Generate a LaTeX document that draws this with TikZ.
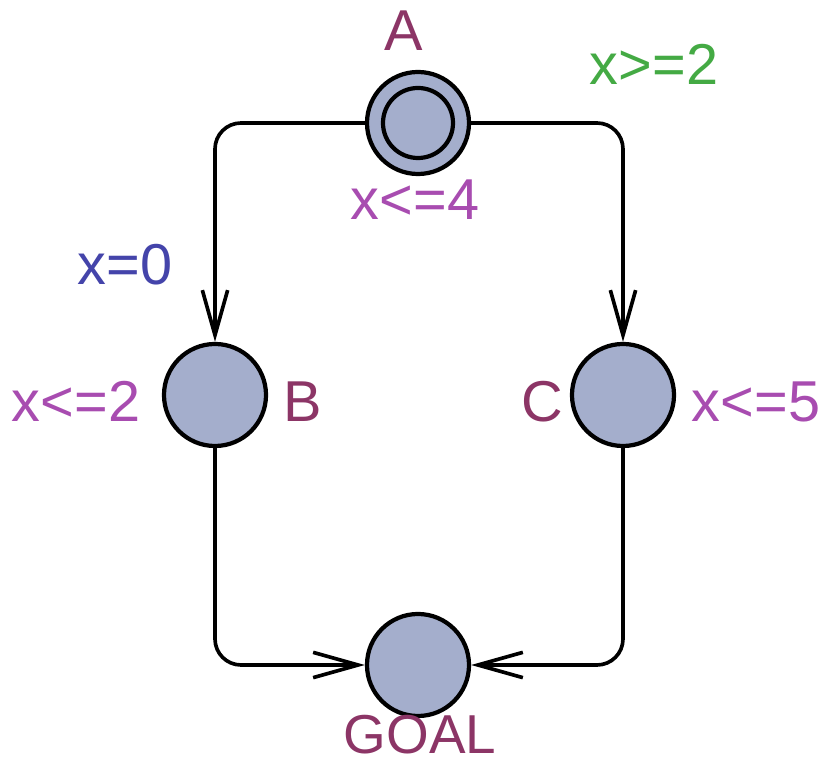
\documentclass[tikz,border=0pt]{standalone}
\usepackage{fontspec}
\setmainfont{Liberation Sans}
\usepackage{tikz}
\usetikzlibrary{positioning, arrows.meta, calc}
\definecolor{locfill}{HTML}{A4AECC}
\definecolor{namecol}{HTML}{8C3566}
\definecolor{invcol}{HTML}{A84CB0}
\definecolor{guardcol}{HTML}{44AA44}
\definecolor{assigncol}{HTML}{4444AA}

\begin{document}
\begin{tikzpicture}[
    x=0.025cm, y=-0.025cm,
    loc/.style={draw=black, line width=3pt, circle, fill=locfill, minimum size=2.55cm, inner sep=0pt},
    initloc/.style={loc, path picture={\draw[line width=3pt] (path picture bounding box.center) circle[radius=0.875cm];}},
    edge/.style={line width=2.6pt, rounded corners=0.65cm, -{Straight Barb[length=32pt, width=18pt]}},
    lbl/.style={anchor=base, inner sep=0pt, font=\fontsize{41pt}{49pt}\selectfont},
    locname/.style={lbl, text=namecol},
    invariant/.style={lbl, text=invcol},
    guard/.style={lbl, text=guardcol},
    assign/.style={lbl, text=assigncol}
]
\useasboundingbox (0,0) rectangle (824,766);

% --- LOCATIONS ---
\node[initloc] (A) at (418,123) {};
\node[loc] (B) at (215,395) {};
\node[loc] (C) at (623,395) {};
\node[loc] (G) at (418,665) {};

% names and invariants
\node[locname] (nA) at (404,51) {A};
\node[locname] (nB) at (303,422) {B};
\node[locname] (nC) at (542,422) {C};
\node[locname, font=\fontsize{39pt}{47pt}\selectfont] (nG) at (420,754) {GOAL};
\node[invariant] (iA) at (415,220) {x<=4};
\node[invariant] (iB) at (76,422) {x<=2};
\node[invariant] (iC) at (756,422) {x<=5};

% --- EDGES ---
\draw[edge] (A.west) -| (B.north);
\draw[edge] (A.east) -| (C.north);
\draw[edge] (B.south) |- (G.west);
\draw[edge] (C.south) |- (G.east);

% guard and update
\node[guard] (gAC) at (654,85) {x>=2};
\node[assign] (uAB) at (125,285) {x=0};

\end{tikzpicture}
\end{document}
